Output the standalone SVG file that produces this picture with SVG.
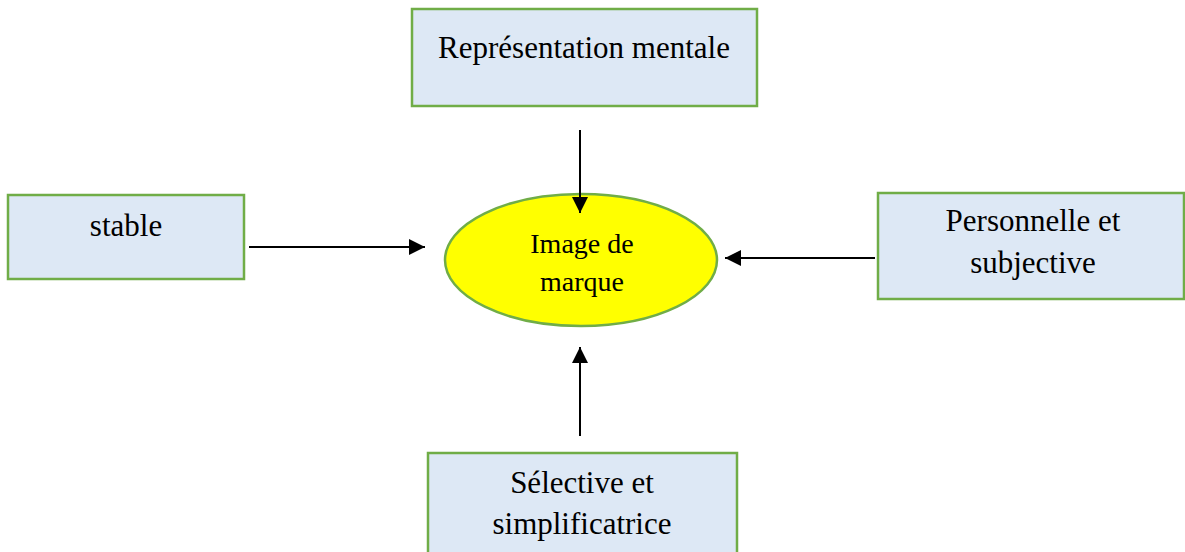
<svg xmlns="http://www.w3.org/2000/svg" width="1185" height="552" viewBox="0 0 1185 552">
  <style>
    .box { fill: #dde8f5; stroke: #70ad47; stroke-width: 2.5; }
    .oval { fill: #ffff00; stroke: #70ad47; stroke-width: 2.5; }
    .lbl { font-family: "Liberation Serif", "Times New Roman", serif; font-size: 31px; fill: #000; text-anchor: middle; }
    .lbl-sm { font-family: "Liberation Serif", "Times New Roman", serif; font-size: 28px; fill: #000; text-anchor: middle; }
    .link { stroke: #000; stroke-width: 2; fill: none; }
  </style>
  <defs>
    <marker id="head" viewBox="0 0 10 10" refX="10" refY="5" markerWidth="16" markerHeight="16" markerUnits="userSpaceOnUse" orient="auto">
      <path d="M0,0 L10,5 L0,10 z" fill="#000"/>
    </marker>
  </defs>

  <g id="node-representation">
    <rect class="box" x="412" y="9" width="345" height="97"/>
    <text class="lbl" x="584" y="58">Représentation mentale</text>
  </g>

  <g id="node-stable">
    <rect class="box" x="8" y="195" width="236" height="84"/>
    <text class="lbl" x="126" y="236">stable</text>
  </g>

  <g id="node-personnelle">
    <rect class="box" x="878" y="193" width="306" height="106"/>
    <text class="lbl" x="1033" y="231">Personnelle et</text>
    <text class="lbl" x="1033" y="273">subjective</text>
  </g>

  <g id="node-selective">
    <rect class="box" x="428" y="453" width="309" height="102"/>
    <text class="lbl" x="582" y="493">Sélective et</text>
    <text class="lbl" x="582" y="534">simplificatrice</text>
  </g>

  <g id="node-image">
    <ellipse class="oval" cx="581" cy="260" rx="136" ry="66"/>
    <text class="lbl-sm" x="582" y="253">Image de</text>
    <text class="lbl-sm" x="582" y="291">marque</text>
  </g>

  <!-- arrows drawn last so the top arrowhead sits over the ellipse -->
  <g id="connectors">
    <line class="link" x1="580" y1="130" x2="580" y2="213" marker-end="url(#head)"/>
    <line class="link" x1="249" y1="247" x2="425" y2="247" marker-end="url(#head)"/>
    <line class="link" x1="875" y1="258" x2="725" y2="258" marker-end="url(#head)"/>
    <line class="link" x1="580" y1="436" x2="580" y2="347" marker-end="url(#head)"/>
  </g>
</svg>
